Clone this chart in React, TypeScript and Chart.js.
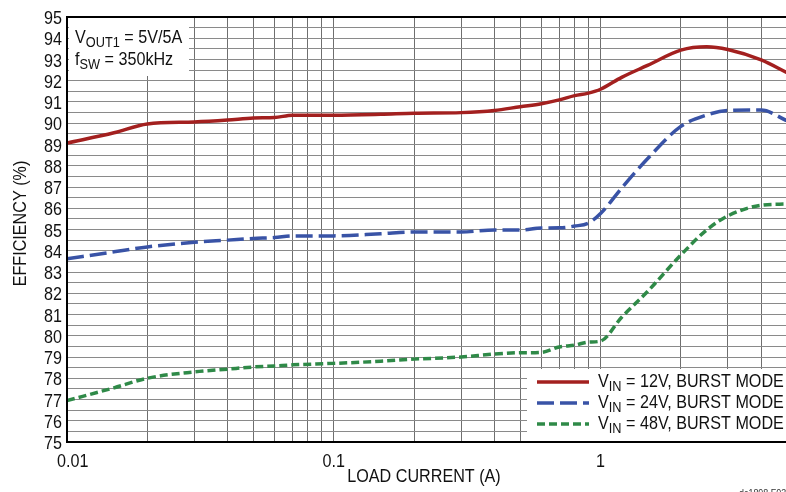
import React, { useEffect, useRef } from 'react';
import { Chart, registerables } from 'chart.js';

Chart.register(...registerables);

// ---- data ----
const current = [0.01, 0.015, 0.02, 0.03, 0.04, 0.05, 0.06, 0.07, 0.1, 0.15, 0.2, 0.3, 0.4, 0.5, 0.6, 0.7, 0.8, 0.9, 1.0, 1.2, 1.5, 2.0, 2.5, 3.0, 4.0, 5.0];
const eff12V = [89.07, 89.55, 89.97, 90.06, 90.15, 90.25, 90.27, 90.38, 90.38, 90.42, 90.47, 90.5, 90.6, 90.78, 90.92, 91.1, 91.3, 91.42, 91.6, 92.16, 92.72, 93.44, 93.6, 93.47, 92.98, 92.38];
const eff24V = [83.62, 83.95, 84.18, 84.4, 84.5, 84.58, 84.62, 84.7, 84.7, 84.8, 84.88, 84.88, 84.98, 84.98, 85.07, 85.08, 85.16, 85.3, 85.75, 86.95, 88.33, 89.85, 90.39, 90.6, 90.62, 90.12];
const eff48V = [76.95, 77.55, 78.0, 78.3, 78.43, 78.53, 78.58, 78.63, 78.7, 78.8, 78.9, 79.0, 79.14, 79.2, 79.22, 79.47, 79.56, 79.7, 79.75, 80.87, 82.08, 83.8, 84.98, 85.64, 86.14, 86.2];

const xGridValues = [0.01, 0.02, 0.03, 0.04, 0.05, 0.06, 0.07, 0.08, 0.09, 0.1, 0.2, 0.3, 0.4, 0.5, 0.6, 0.7, 0.8, 0.9, 1, 2, 3, 4, 5];
const xTickLabels = ['0.01', '0.1', '1'];
const yTickLabels = ['75', '76', '77', '78', '79', '80', '81', '82', '83', '84', '85', '86', '87', '88', '89', '90', '91', '92', '93', '94', '95'];
const xMin = 0.01;
const xMax = 5;
const yMin = 75;
const yMax = 95;
const yGridStep = 0.5;

const seriesNames = ['12V', '24V', '48V'];
const legendTexts = [' = 12V, BURST MODE', ' = 24V, BURST MODE', ' = 48V, BURST MODE'];
const axisTitleX = 'LOAD CURRENT (A)';
const axisTitleY = 'EFFICIENCY (%)';
const noteLines: [string, string, string][] = [
  ['V', 'OUT1', ' = 5V/5A'],
  ['f', 'SW', ' = 350kHz'],
];
const figureId = 'dc1898 F03';

// ---- styles ----
const FONT = "'Liberation Sans', Arial, sans-serif";
const SX = 0.85; // horizontal condensing of text
const FS = 19;
const FS_SUB = 15;
const TEXT = '#111';
const COLORS = ['#a3201f', '#3953a6', '#2f8a48'];
const DASHES: number[][] = [[], [17, 6], [8, 4]];

function cText(ctx: CanvasRenderingContext2D, text: string, x: number, y: number, size: number, align: CanvasTextAlign = 'left', rot = 0) {
  ctx.save();
  ctx.translate(x, y);
  if (rot) ctx.rotate(rot);
  ctx.scale(SX, 1);
  ctx.font = `${size}px ${FONT}`;
  ctx.textAlign = align;
  ctx.textBaseline = 'alphabetic';
  ctx.fillText(text, 0, 0);
  ctx.restore();
}

function cWidth(ctx: CanvasRenderingContext2D, text: string, size: number) {
  ctx.font = `${size}px ${FONT}`;
  return ctx.measureText(text).width * SX;
}

function drawSubText(ctx: CanvasRenderingContext2D, x: number, y: number, main: string, sub: string, rest: string, size: number, subSize: number) {
  let cx = x;
  cText(ctx, main, cx, y, size);
  cx += cWidth(ctx, main, size);
  cText(ctx, sub, cx, y + 4, subSize);
  cx += cWidth(ctx, sub, subSize);
  cText(ctx, rest, cx, y, size);
}

const overlayPlugin = {
  id: 'overlay',
  beforeDatasetsDraw(chart: any) {
    const ctx = chart.ctx as CanvasRenderingContext2D;
    ctx.save();
    ctx.fillStyle = '#ffffff';
    ctx.fillRect(69, 18, 120, 58);
    ctx.fillRect(527, 369, 270, 72);
    ctx.restore();
  },
  afterDraw(chart: any) {
    const ctx = chart.ctx as CanvasRenderingContext2D;
    const a = chart.chartArea;
    const xs = chart.scales.x;
    const ys = chart.scales.y;
    ctx.save();
    // frame
    ctx.strokeStyle = '#000';
    ctx.lineWidth = 2;
    ctx.beginPath();
    ctx.moveTo(a.right + 2, a.top);
    ctx.lineTo(a.left, a.top);
    ctx.lineTo(a.left, a.bottom);
    ctx.lineTo(a.right + 2, a.bottom);
    ctx.stroke();

    ctx.fillStyle = TEXT;
    // y tick labels
    for (const t of yTickLabels) {
      const py = ys.getPixelForValue(Number(t));
      cText(ctx, t, a.left - 5, py + 7, FS, 'right');
    }
    // x tick labels
    for (const t of xTickLabels) {
      const px = xs.getPixelForValue(Number(t));
      const w = cWidth(ctx, t, FS);
      const left = Math.max(px - w / 2, a.left - 10);
      cText(ctx, t, left, a.bottom + 25, FS, 'left');
    }
    // axis titles
    cText(ctx, axisTitleX, (a.left + a.right) / 2 - 3, 482, FS, 'center');
    cText(ctx, axisTitleY, 26, (a.top + a.bottom) / 2 - 6, FS, 'center', -Math.PI / 2);

    // note
    drawSubText(ctx, 75, 43, noteLines[0][0], noteLines[0][1], noteLines[0][2], FS, FS_SUB);
    drawSubText(ctx, 75, 65, noteLines[1][0], noteLines[1][1], noteLines[1][2], FS, FS_SUB);

    // legend
    const rowsY = [382, 403, 424];
    for (let i = 0; i < seriesNames.length; i++) {
      ctx.strokeStyle = COLORS[i];
      ctx.lineWidth = 3.5;
      ctx.setLineDash(DASHES[i]);
      ctx.beginPath();
      ctx.moveTo(537, rowsY[i]);
      ctx.lineTo(589, rowsY[i]);
      ctx.stroke();
      ctx.setLineDash([]);
      ctx.fillStyle = TEXT;
      drawSubText(ctx, 598, rowsY[i] + 5, 'V', 'IN', legendTexts[i], FS, FS_SUB);
    }

    // figure id
    ctx.fillStyle = '#333';
    cText(ctx, figureId, 739, 497, 10.5, 'left');
    ctx.restore();
  },
};

export default function App() {
  const ref = useRef<HTMLCanvasElement | null>(null);

  useEffect(() => {
    if (!ref.current) return;
    const mk = (ys: number[]) => current.map((x, i) => ({ x, y: ys[i] }));
    const chart = new Chart(ref.current, {
      type: 'line',
      data: {
        datasets: [eff12V, eff24V, eff48V].map((ys, i) => ({
          label: seriesNames[i],
          data: mk(ys),
          borderColor: COLORS[i],
          backgroundColor: COLORS[i],
          borderWidth: 3.5,
          borderDash: DASHES[i],
          pointRadius: 0,
          cubicInterpolationMode: 'monotone' as const,
          fill: false,
        })),
      },
      plugins: [overlayPlugin],
      options: {
        responsive: false,
        animation: false,
        devicePixelRatio: 1,
        layout: { padding: { top: 17, right: 3, left: 0, bottom: 0 } },
        plugins: {
          legend: { display: false },
          tooltip: { enabled: false },
        },
        scales: {
          x: {
            type: 'logarithmic',
            min: xMin,
            max: xMax,
            afterBuildTicks: (scale: any) => {
              scale.ticks = xGridValues.map((v) => ({ value: v }));
            },
            afterFit: (scale: any) => {
              scale.height = 50;
            },
            ticks: { display: false, autoSkip: false },
            grid: { color: '#6f6f6f', lineWidth: 1, drawTicks: false },
            border: { display: false },
          },
          y: {
            type: 'linear',
            min: yMin,
            max: yMax,
            afterFit: (scale: any) => {
              scale.width = 67;
            },
            ticks: { display: false, stepSize: yGridStep, autoSkip: false },
            grid: { color: '#8a8a8a', lineWidth: 1, drawTicks: false },
            border: { display: false },
          },
        },
      },
    });
    return () => chart.destroy();
  }, []);

  return (
    <div style={{ position: 'fixed', left: 0, top: 0, width: 790, height: 492, background: '#fff' }}>
      <canvas ref={ref} width={790} height={492} style={{ display: 'block' }} />
    </div>
  );
}
